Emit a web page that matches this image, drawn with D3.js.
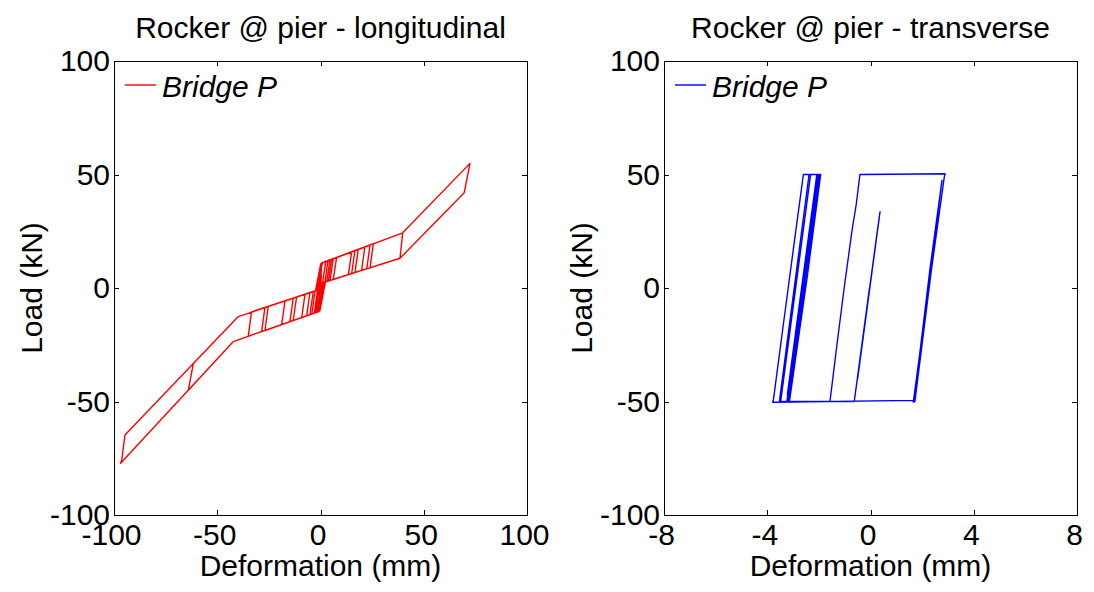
<!DOCTYPE html>
<html>
<head>
<meta charset="utf-8">
<script src="https://cdn.jsdelivr.net/npm/d3@7"></script>
<style>
  html, body { margin: 0; padding: 0; background: #fff; }
  svg { display: block; font-family: "Liberation Sans", Arial, sans-serif; }
</style>
</head>
<body>
<svg id="chart" width="1094" height="592"></svg>
<script>
// ---- data -------------------------------------------------------------
const loadTicks = [-100, -50, 0, 50, 100];
const longTicks = [-100, -50, 0, 50, 100];
const transTicks = [-8, -4, 0, 4, 8];
const panelTitles = ["Rocker @ pier - longitudinal", "Rocker @ pier - transverse"];
const seriesName = "Bridge P";
const xLabel = "Deformation (mm)";
const yLabel = "Load (kN)";

// Longitudinal force-deformation history [deformation mm, load kN]
const longitudinalLoop = [
  [0, 0], [0.4, 5.5], [-0.5, -4.5], [0.3, 7.2], [-0.7, -7.8],
  [0.6, 10.9], [4.6, 12.45], [3.0, 2.87], [1.0, 2.3], [-1.0, -10.4], [-5.1, -11.73], [-3.5, -1.55], [-1.2, -0.86],
  [0.5, 10.9], [7.8, 13.53], [6.2, 3.8], [1.4, 2.4], [-0.7, -10.3], [-9.1, -13.01], [-7.5, -2.75], [-1.6, -1.0],
  [0.3, 10.8], [16.7, 16.53], [15.1, 6.38], [0.8, 2.2], [-1.3, -10.5], [-14.8, -14.84], [-13.2, -4.46], [-1.0, -0.8],
  [0.7, 11.1], [25.6, 19.53], [24.0, 8.96], [1.8, 2.5], [-0.5, -10.2], [-28.5, -19.22], [-26.9, -8.57], [-2.0, -1.1],
  [0.4, 10.9], [39.8, 24.31], [72.4, 54.9], [69.6, 42.0], [38.5, 13.1], [1.2, 2.35], [-1.1, -10.45],
  [-42.2, -23.6], [-64.0, -45.0], [-61.6, -33.3], [-39.8, -12.6], [-1.4, -0.92],
  [0.6, 10.9], [39.8, 24.31], [38.5, 13.1], [1.5, 2.45], [-0.9, -10.4], [-42.2, -23.6], [-96.8, -77.2],
  [-96.2, -75.5], [-94.7, -64.8], [-39.8, -12.6], [-1.1, -0.83],
  [0.5, 10.9], [21.5, 18.15], [19.9, 7.77], [1.1, 2.3], [-1.2, -10.5], [-35.0, -21.3], [-33.4, -10.52], [-1.7, -1.0],
  [0.2, 10.7], [18.3, 17.07], [16.7, 6.84], [0.9, 2.25], [-0.8, -10.35], [-26.9, -18.71], [-25.3, -8.09], [-1.3, -0.9],
  [0.6, 11.0], [24.0, 18.99], [22.4, 8.5], [2.0, 2.6], [-0.6, -10.3], [-18.8, -16.12], [-17.2, -5.66], [-2.2, -1.2],
  [0.4, 10.8], [15.1, 15.99], [13.5, 5.92], [1.3, 2.4], [-1.0, -10.4], [-13.2, -14.32], [-11.6, -3.98], [-0.9, -0.8],
  [0.7, 11.0], [6.2, 12.99], [4.6, 3.33], [1.6, 2.45], [-1.4, -10.6], [-6.7, -12.24], [-5.1, -2.03], [-1.5, -0.95],
  [0.9, 11.2], [5.4, 12.7], [3.8, 3.1], [2.4, 2.7], [-0.3, -10.1], [-4.2, -11.4], [-2.6, -1.3], [-2.4, -1.2],
  [0.1, 10.6], [3.6, 12.1], [2.2, 2.6], [0.6, 2.1], [-1.8, -10.7], [-3.0, -11.1], [-1.4, -0.9],
  [0.8, 11.1], [2.6, 11.8], [1.0, 2.3], [-1.6, -10.6], [-2.4, -10.9], [-0.8, -0.7],
  [0.3, 8.5], [-0.8, -8.6], [0.2, 6.0], [-0.5, -5.2], [0.1, 3.0], [-0.2, -1.0]
];

// Transverse force-deformation history [deformation mm, load kN]
const transverseLoop = [
  [-0.04, 0], [-0.63, -50], [-1.57, -50], [-1.30, -25], [-1.02, 0], [-0.72, 25], [-0.55, 37], [-0.41, 50],
  [2.89, 50.3], [2.86, 49.0], [2.36, 8], [1.72, -50], [1.66, -50.2], [2.20, -4], [2.77, 47.5], [2.30, 8],
  [1.69, -49.5], [-3.79, -50.3], [-3.76, -49.2], [-3.48, -25], [-3.20, -1], [-2.92, 23], [-2.60, 50],
  [-1.93, 50], [-2.45, 5], [-3.14, -50], [-3.53, -50], [-2.38, 50], [-1.98, 50], [-2.60, -2], [-3.22, -50],
  [-3.48, -50], [-2.32, 50], [-2.08, 50], [-2.70, -3], [-2.28, 33], [-2.86, -16], [-3.22, -47],
  [-2.14, 44], [-2.07, 50], [-2.02, 50], [-2.52, 8], [-3.24, -50], [-3.18, -50], [-2.12, 40], [-2.60, -2],
  [-3.10, -45], [-2.00, 48], [-2.40, 14], [-3.00, -36], [-2.55, 3], [-3.24, -50],
  [-0.63, -50], [0.37, 33.6], [-0.20, -14], [0.30, 28], [-0.10, -6], [0.36, 33], [-0.50, -40], [0.37, 33.6]
];

// ---- layout -----------------------------------------------------------
const plotW = 413, plotTop = 61, plotBottom = 515;
const fontSize = 30;
const panels = [
  { title: panelTitles[0], data: longitudinalLoop, xDomain: [-100, 100], xTicks: longTicks, color: "#ff0000", left: 114 },
  { title: panelTitles[1], data: transverseLoop, xDomain: [-8, 8], xTicks: transTicks, color: "#0000ff", left: 664 }
];

const svg = d3.select("#chart");

function styleAxis(sel) {
  sel.select(".domain").remove();
  sel.attr("font-family", null).attr("font-size", null);
  sel.selectAll(".tick line").attr("stroke", "#000").attr("shape-rendering", "crispEdges");
  sel.selectAll(".tick text").attr("fill", "#000").attr("font-size", fontSize);
}

panels.forEach(p => {
  const g = svg.append("g");
  const x = d3.scaleLinear().domain(p.xDomain).range([p.left, p.left + plotW]);
  const y = d3.scaleLinear().domain([-100, 100]).range([plotBottom, plotTop]);

  // hysteresis curve
  g.append("path")
    .datum(p.data)
    .attr("d", d3.line().x(d => x(d[0])).y(d => y(d[1])))
    .attr("fill", "none")
    .attr("stroke", p.color)
    .attr("stroke-width", 1.4)
    .attr("stroke-linejoin", "round");

  // axes with inward ticks on all four sides
  g.append("g")
    .attr("transform", `translate(0,${plotBottom})`)
    .call(d3.axisBottom(x).tickValues(p.xTicks).tickSize(-5).tickPadding(9).tickFormat(d => String(d)))
    .call(styleAxis)
    .selectAll(".tick text").attr("dx", -3);

  g.append("g")
    .attr("transform", `translate(0,${plotTop})`)
    .call(d3.axisTop(x).tickValues(p.xTicks).tickSize(-5).tickFormat(""))
    .call(styleAxis);

  g.append("g")
    .attr("transform", `translate(${p.left},0)`)
    .call(d3.axisLeft(y).tickValues(loadTicks).tickSize(-5).tickPadding(4).tickFormat(d => String(d)))
    .call(styleAxis);

  g.append("g")
    .attr("transform", `translate(${p.left + plotW},0)`)
    .call(d3.axisRight(y).tickValues(loadTicks).tickSize(-5).tickFormat(""))
    .call(styleAxis);

  // plot frame
  g.append("rect")
    .attr("x", p.left).attr("y", plotTop)
    .attr("width", plotW).attr("height", plotBottom - plotTop)
    .attr("fill", "none").attr("stroke", "#000").attr("stroke-width", 1)
    .attr("shape-rendering", "crispEdges");

  // title
  g.append("text")
    .attr("x", p.left + plotW / 2).attr("y", 38)
    .attr("text-anchor", "middle").attr("font-size", fontSize)
    .text(p.title);

  // axis labels
  g.append("text")
    .attr("x", p.left + plotW / 2).attr("y", 576)
    .attr("text-anchor", "middle").attr("font-size", fontSize)
    .text(xLabel);

  g.append("text")
    .attr("transform", `translate(${p.left - 72},${(plotTop + plotBottom) / 2}) rotate(-90)`)
    .attr("text-anchor", "middle").attr("font-size", fontSize)
    .text(yLabel);

  // legend
  g.append("line")
    .attr("x1", p.left + 11).attr("x2", p.left + 42)
    .attr("y1", 85).attr("y2", 85)
    .attr("stroke", p.color).attr("stroke-width", 1.4);
  g.append("text")
    .attr("x", p.left + 48).attr("y", 97)
    .attr("font-size", fontSize).attr("font-style", "italic")
    .text(seriesName);
});
</script>
</body>
</html>
